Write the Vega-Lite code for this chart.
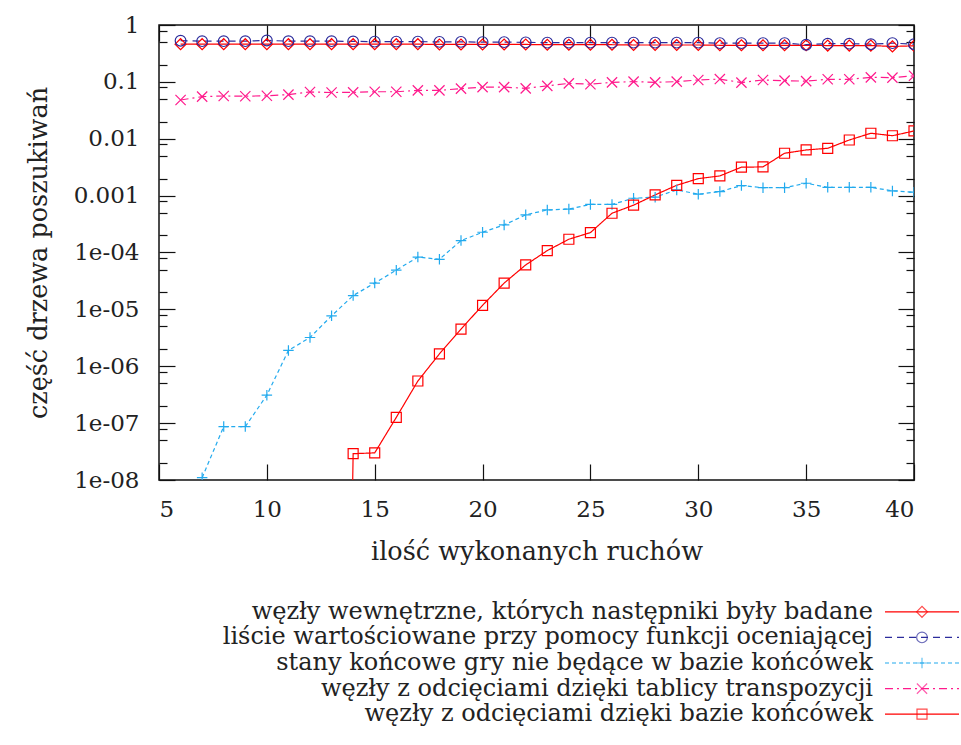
{
  "$schema": "https://vega.github.io/schema/vega-lite/v6.json",
  "padding": {"left": 25, "top": 13, "right": 0, "bottom": 0},
  "background": "white",
  "spacing": 33,
  "resolve": {"scale": {"x": "independent", "y": "independent"}},
  "config": {
    "view": {"stroke": "#111", "strokeWidth": 1.5},
    "font": "DejaVu Serif",
    "axis": {
      "labelFont": "DejaVu Serif", "labelFontSize": 23, "labelColor": "#222",
      "titleFont": "DejaVu Serif", "titleFontSize": 25.5, "titleFontWeight": "normal", "titleColor": "#222",
      "domain": false, "grid": false, "tickColor": "#111", "tickWidth": 1.2
    }
  },
  "datasets": {
    "series": [
      {"n": 6, "v": 0.46, "s": "węzły wewnętrzne, których następniki były badane"},
      {"n": 7, "v": 0.46, "s": "węzły wewnętrzne, których następniki były badane"},
      {"n": 8, "v": 0.46, "s": "węzły wewnętrzne, których następniki były badane"},
      {"n": 9, "v": 0.46, "s": "węzły wewnętrzne, których następniki były badane"},
      {"n": 10, "v": 0.46, "s": "węzły wewnętrzne, których następniki były badane"},
      {"n": 11, "v": 0.46, "s": "węzły wewnętrzne, których następniki były badane"},
      {"n": 12, "v": 0.46, "s": "węzły wewnętrzne, których następniki były badane"},
      {"n": 13, "v": 0.46, "s": "węzły wewnętrzne, których następniki były badane"},
      {"n": 14, "v": 0.46, "s": "węzły wewnętrzne, których następniki były badane"},
      {"n": 15, "v": 0.46, "s": "węzły wewnętrzne, których następniki były badane"},
      {"n": 16, "v": 0.46, "s": "węzły wewnętrzne, których następniki były badane"},
      {"n": 17, "v": 0.46, "s": "węzły wewnętrzne, których następniki były badane"},
      {"n": 18, "v": 0.455, "s": "węzły wewnętrzne, których następniki były badane"},
      {"n": 19, "v": 0.455, "s": "węzły wewnętrzne, których następniki były badane"},
      {"n": 20, "v": 0.455, "s": "węzły wewnętrzne, których następniki były badane"},
      {"n": 21, "v": 0.455, "s": "węzły wewnętrzne, których następniki były badane"},
      {"n": 22, "v": 0.455, "s": "węzły wewnętrzne, których następniki były badane"},
      {"n": 23, "v": 0.45, "s": "węzły wewnętrzne, których następniki były badane"},
      {"n": 24, "v": 0.45, "s": "węzły wewnętrzne, których następniki były badane"},
      {"n": 25, "v": 0.45, "s": "węzły wewnętrzne, których następniki były badane"},
      {"n": 26, "v": 0.45, "s": "węzły wewnętrzne, których następniki były badane"},
      {"n": 27, "v": 0.445, "s": "węzły wewnętrzne, których następniki były badane"},
      {"n": 28, "v": 0.445, "s": "węzły wewnętrzne, których następniki były badane"},
      {"n": 29, "v": 0.445, "s": "węzły wewnętrzne, których następniki były badane"},
      {"n": 30, "v": 0.445, "s": "węzły wewnętrzne, których następniki były badane"},
      {"n": 31, "v": 0.44, "s": "węzły wewnętrzne, których następniki były badane"},
      {"n": 32, "v": 0.44, "s": "węzły wewnętrzne, których następniki były badane"},
      {"n": 33, "v": 0.44, "s": "węzły wewnętrzne, których następniki były badane"},
      {"n": 34, "v": 0.44, "s": "węzły wewnętrzne, których następniki były badane"},
      {"n": 35, "v": 0.44, "s": "węzły wewnętrzne, których następniki były badane"},
      {"n": 36, "v": 0.435, "s": "węzły wewnętrzne, których następniki były badane"},
      {"n": 37, "v": 0.435, "s": "węzły wewnętrzne, których następniki były badane"},
      {"n": 38, "v": 0.435, "s": "węzły wewnętrzne, których następniki były badane"},
      {"n": 39, "v": 0.42, "s": "węzły wewnętrzne, których następniki były badane"},
      {"n": 40, "v": 0.43, "s": "węzły wewnętrzne, których następniki były badane"},

      {"n": 6, "v": 0.53, "s": "liście wartościowane przy pomocy funkcji oceniającej"},
      {"n": 7, "v": 0.52, "s": "liście wartościowane przy pomocy funkcji oceniającej"},
      {"n": 8, "v": 0.52, "s": "liście wartościowane przy pomocy funkcji oceniającej"},
      {"n": 9, "v": 0.52, "s": "liście wartościowane przy pomocy funkcji oceniającej"},
      {"n": 10, "v": 0.535, "s": "liście wartościowane przy pomocy funkcji oceniającej"},
      {"n": 11, "v": 0.52, "s": "liście wartościowane przy pomocy funkcji oceniającej"},
      {"n": 12, "v": 0.52, "s": "liście wartościowane przy pomocy funkcji oceniającej"},
      {"n": 13, "v": 0.52, "s": "liście wartościowane przy pomocy funkcji oceniającej"},
      {"n": 14, "v": 0.515, "s": "liście wartościowane przy pomocy funkcji oceniającej"},
      {"n": 15, "v": 0.51, "s": "liście wartościowane przy pomocy funkcji oceniającej"},
      {"n": 16, "v": 0.51, "s": "liście wartościowane przy pomocy funkcji oceniającej"},
      {"n": 17, "v": 0.51, "s": "liście wartościowane przy pomocy funkcji oceniającej"},
      {"n": 18, "v": 0.505, "s": "liście wartościowane przy pomocy funkcji oceniającej"},
      {"n": 19, "v": 0.505, "s": "liście wartościowane przy pomocy funkcji oceniającej"},
      {"n": 20, "v": 0.5, "s": "liście wartościowane przy pomocy funkcji oceniającej"},
      {"n": 21, "v": 0.5, "s": "liście wartościowane przy pomocy funkcji oceniającej"},
      {"n": 22, "v": 0.495, "s": "liście wartościowane przy pomocy funkcji oceniającej"},
      {"n": 23, "v": 0.49, "s": "liście wartościowane przy pomocy funkcji oceniającej"},
      {"n": 24, "v": 0.49, "s": "liście wartościowane przy pomocy funkcji oceniającej"},
      {"n": 25, "v": 0.49, "s": "liście wartościowane przy pomocy funkcji oceniającej"},
      {"n": 26, "v": 0.49, "s": "liście wartościowane przy pomocy funkcji oceniającej"},
      {"n": 27, "v": 0.49, "s": "liście wartościowane przy pomocy funkcji oceniającej"},
      {"n": 28, "v": 0.49, "s": "liście wartościowane przy pomocy funkcji oceniającej"},
      {"n": 29, "v": 0.49, "s": "liście wartościowane przy pomocy funkcji oceniającej"},
      {"n": 30, "v": 0.49, "s": "liście wartościowane przy pomocy funkcji oceniającej"},
      {"n": 31, "v": 0.48, "s": "liście wartościowane przy pomocy funkcji oceniającej"},
      {"n": 32, "v": 0.48, "s": "liście wartościowane przy pomocy funkcji oceniającej"},
      {"n": 33, "v": 0.48, "s": "liście wartościowane przy pomocy funkcji oceniającej"},
      {"n": 34, "v": 0.48, "s": "liście wartościowane przy pomocy funkcji oceniającej"},
      {"n": 35, "v": 0.45, "s": "liście wartościowane przy pomocy funkcji oceniającej"},
      {"n": 36, "v": 0.47, "s": "liście wartościowane przy pomocy funkcji oceniającej"},
      {"n": 37, "v": 0.47, "s": "liście wartościowane przy pomocy funkcji oceniającej"},
      {"n": 38, "v": 0.46, "s": "liście wartościowane przy pomocy funkcji oceniającej"},
      {"n": 39, "v": 0.48, "s": "liście wartościowane przy pomocy funkcji oceniającej"},
      {"n": 40, "v": 0.46, "s": "liście wartościowane przy pomocy funkcji oceniającej"},

      {"n": 7, "v": 1.1e-8, "s": "stany końcowe gry nie będące w bazie końcówek"},
      {"n": 8, "v": 8.7e-8, "s": "stany końcowe gry nie będące w bazie końcówek"},
      {"n": 9, "v": 8.7e-8, "s": "stany końcowe gry nie będące w bazie końcówek"},
      {"n": 10, "v": 3.1e-7, "s": "stany końcowe gry nie będące w bazie końcówek"},
      {"n": 11, "v": 1.9e-6, "s": "stany końcowe gry nie będące w bazie końcówek"},
      {"n": 12, "v": 3.2e-6, "s": "stany końcowe gry nie będące w bazie końcówek"},
      {"n": 13, "v": 7.7e-6, "s": "stany końcowe gry nie będące w bazie końcówek"},
      {"n": 14, "v": 1.75e-5, "s": "stany końcowe gry nie będące w bazie końcówek"},
      {"n": 15, "v": 2.9e-5, "s": "stany końcowe gry nie będące w bazie końcówek"},
      {"n": 16, "v": 4.9e-5, "s": "stany końcowe gry nie będące w bazie końcówek"},
      {"n": 17, "v": 8.3e-5, "s": "stany końcowe gry nie będące w bazie końcówek"},
      {"n": 18, "v": 7.6e-5, "s": "stany końcowe gry nie będące w bazie końcówek"},
      {"n": 19, "v": 1.62e-4, "s": "stany końcowe gry nie będące w bazie końcówek"},
      {"n": 20, "v": 2.27e-4, "s": "stany końcowe gry nie będące w bazie końcówek"},
      {"n": 21, "v": 3.05e-4, "s": "stany końcowe gry nie będące w bazie końcówek"},
      {"n": 22, "v": 4.6e-4, "s": "stany końcowe gry nie będące w bazie końcówek"},
      {"n": 23, "v": 5.6e-4, "s": "stany końcowe gry nie będące w bazie końcówek"},
      {"n": 24, "v": 5.8e-4, "s": "stany końcowe gry nie będące w bazie końcówek"},
      {"n": 25, "v": 7.0e-4, "s": "stany końcowe gry nie będące w bazie końcówek"},
      {"n": 26, "v": 7.0e-4, "s": "stany końcowe gry nie będące w bazie końcówek"},
      {"n": 27, "v": 9.0e-4, "s": "stany końcowe gry nie będące w bazie końcówek"},
      {"n": 28, "v": 9.4e-4, "s": "stany końcowe gry nie będące w bazie końcówek"},
      {"n": 29, "v": 1.26e-3, "s": "stany końcowe gry nie będące w bazie końcówek"},
      {"n": 30, "v": 1.06e-3, "s": "stany końcowe gry nie będące w bazie końcówek"},
      {"n": 31, "v": 1.18e-3, "s": "stany końcowe gry nie będące w bazie końcówek"},
      {"n": 32, "v": 1.5e-3, "s": "stany końcowe gry nie będące w bazie końcówek"},
      {"n": 33, "v": 1.38e-3, "s": "stany końcowe gry nie będące w bazie końcówek"},
      {"n": 34, "v": 1.38e-3, "s": "stany końcowe gry nie będące w bazie końcówek"},
      {"n": 35, "v": 1.65e-3, "s": "stany końcowe gry nie będące w bazie końcówek"},
      {"n": 36, "v": 1.4e-3, "s": "stany końcowe gry nie będące w bazie końcówek"},
      {"n": 37, "v": 1.4e-3, "s": "stany końcowe gry nie będące w bazie końcówek"},
      {"n": 38, "v": 1.4e-3, "s": "stany końcowe gry nie będące w bazie końcówek"},
      {"n": 39, "v": 1.21e-3, "s": "stany końcowe gry nie będące w bazie końcówek"},
      {"n": 40, "v": 1.15e-3, "s": "stany końcowe gry nie będące w bazie końcówek"},

      {"n": 6, "v": 0.048, "s": "węzły z odcięciami dzięki tablicy transpozycji"},
      {"n": 7, "v": 0.055, "s": "węzły z odcięciami dzięki tablicy transpozycji"},
      {"n": 8, "v": 0.0565, "s": "węzły z odcięciami dzięki tablicy transpozycji"},
      {"n": 9, "v": 0.056, "s": "węzły z odcięciami dzięki tablicy transpozycji"},
      {"n": 10, "v": 0.057, "s": "węzły z odcięciami dzięki tablicy transpozycji"},
      {"n": 11, "v": 0.0596, "s": "węzły z odcięciami dzięki tablicy transpozycji"},
      {"n": 12, "v": 0.0665, "s": "węzły z odcięciami dzięki tablicy transpozycji"},
      {"n": 13, "v": 0.065, "s": "węzły z odcięciami dzięki tablicy transpozycji"},
      {"n": 14, "v": 0.0655, "s": "węzły z odcięciami dzięki tablicy transpozycji"},
      {"n": 15, "v": 0.067, "s": "węzły z odcięciami dzięki tablicy transpozycji"},
      {"n": 16, "v": 0.067, "s": "węzły z odcięciami dzięki tablicy transpozycji"},
      {"n": 17, "v": 0.071, "s": "węzły z odcięciami dzięki tablicy transpozycji"},
      {"n": 18, "v": 0.071, "s": "węzły z odcięciami dzięki tablicy transpozycji"},
      {"n": 19, "v": 0.076, "s": "węzły z odcięciami dzięki tablicy transpozycji"},
      {"n": 20, "v": 0.081, "s": "węzły z odcięciami dzięki tablicy transpozycji"},
      {"n": 21, "v": 0.081, "s": "węzły z odcięciami dzięki tablicy transpozycji"},
      {"n": 22, "v": 0.077, "s": "węzły z odcięciami dzięki tablicy transpozycji"},
      {"n": 23, "v": 0.085, "s": "węzły z odcięciami dzięki tablicy transpozycji"},
      {"n": 24, "v": 0.094, "s": "węzły z odcięciami dzięki tablicy transpozycji"},
      {"n": 25, "v": 0.091, "s": "węzły z odcięciami dzięki tablicy transpozycji"},
      {"n": 26, "v": 0.098, "s": "węzły z odcięciami dzięki tablicy transpozycji"},
      {"n": 27, "v": 0.101, "s": "węzły z odcięciami dzięki tablicy transpozycji"},
      {"n": 28, "v": 0.098, "s": "węzły z odcięciami dzięki tablicy transpozycji"},
      {"n": 29, "v": 0.101, "s": "węzły z odcięciami dzięki tablicy transpozycji"},
      {"n": 30, "v": 0.108, "s": "węzły z odcięciami dzięki tablicy transpozycji"},
      {"n": 31, "v": 0.112, "s": "węzły z odcięciami dzięki tablicy transpozycji"},
      {"n": 32, "v": 0.097, "s": "węzły z odcięciami dzięki tablicy transpozycji"},
      {"n": 33, "v": 0.108, "s": "węzły z odcięciami dzięki tablicy transpozycji"},
      {"n": 34, "v": 0.105, "s": "węzły z odcięciami dzięki tablicy transpozycji"},
      {"n": 35, "v": 0.103, "s": "węzły z odcięciami dzięki tablicy transpozycji"},
      {"n": 36, "v": 0.111, "s": "węzły z odcięciami dzięki tablicy transpozycji"},
      {"n": 37, "v": 0.111, "s": "węzły z odcięciami dzięki tablicy transpozycji"},
      {"n": 38, "v": 0.12, "s": "węzły z odcięciami dzięki tablicy transpozycji"},
      {"n": 39, "v": 0.119, "s": "węzły z odcięciami dzięki tablicy transpozycji"},
      {"n": 40, "v": 0.128, "s": "węzły z odcięciami dzięki tablicy transpozycji"},

      {"n": 13, "v": 1e-30, "s": "węzły z odcięciami dzięki bazie końcówek"},
      {"n": 14, "v": 2.9e-8, "s": "węzły z odcięciami dzięki bazie końcówek"},
      {"n": 15, "v": 3.0e-8, "s": "węzły z odcięciami dzięki bazie końcówek"},
      {"n": 16, "v": 1.26e-7, "s": "węzły z odcięciami dzięki bazie końcówek"},
      {"n": 17, "v": 5.5e-7, "s": "węzły z odcięciami dzięki bazie końcówek"},
      {"n": 18, "v": 1.65e-6, "s": "węzły z odcięciami dzięki bazie końcówek"},
      {"n": 19, "v": 4.5e-6, "s": "węzły z odcięciami dzięki bazie końcówek"},
      {"n": 20, "v": 1.18e-5, "s": "węzły z odcięciami dzięki bazie końcówek"},
      {"n": 21, "v": 2.9e-5, "s": "węzły z odcięciami dzięki bazie końcówek"},
      {"n": 22, "v": 6.05e-5, "s": "węzły z odcięciami dzięki bazie końcówek"},
      {"n": 23, "v": 1.08e-4, "s": "węzły z odcięciami dzięki bazie końcówek"},
      {"n": 24, "v": 1.71e-4, "s": "węzły z odcięciami dzięki bazie końcówek"},
      {"n": 25, "v": 2.24e-4, "s": "węzły z odcięciami dzięki bazie końcówek"},
      {"n": 26, "v": 4.9e-4, "s": "węzły z odcięciami dzięki bazie końcówek"},
      {"n": 27, "v": 6.8e-4, "s": "węzły z odcięciami dzięki bazie końcówek"},
      {"n": 28, "v": 1.03e-3, "s": "węzły z odcięciami dzięki bazie końcówek"},
      {"n": 29, "v": 1.52e-3, "s": "węzły z odcięciami dzięki bazie końcówek"},
      {"n": 30, "v": 1.99e-3, "s": "węzły z odcięciami dzięki bazie końcówek"},
      {"n": 31, "v": 2.22e-3, "s": "węzły z odcięciami dzięki bazie końcówek"},
      {"n": 32, "v": 3.16e-3, "s": "węzły z odcięciami dzięki bazie końcówek"},
      {"n": 33, "v": 3.2e-3, "s": "węzły z odcięciami dzięki bazie końcówek"},
      {"n": 34, "v": 5.56e-3, "s": "węzły z odcięciami dzięki bazie końcówek"},
      {"n": 35, "v": 6.35e-3, "s": "węzły z odcięciami dzięki bazie końcówek"},
      {"n": 36, "v": 6.8e-3, "s": "węzły z odcięciami dzięki bazie końcówek"},
      {"n": 37, "v": 9.5e-3, "s": "węzły z odcięciami dzięki bazie końcówek"},
      {"n": 38, "v": 0.0125, "s": "węzły z odcięciami dzięki bazie końcówek"},
      {"n": 39, "v": 0.0113, "s": "węzły z odcięciami dzięki bazie końcówek"},
      {"n": 40, "v": 0.0137, "s": "węzły z odcięciami dzięki bazie końcówek"}
    ],
    "legend": [
      {"s": "węzły wewnętrzne, których następniki były badane"},
      {"s": "liście wartościowane przy pomocy funkcji oceniającej"},
      {"s": "stany końcowe gry nie będące w bazie końcówek"},
      {"s": "węzły z odcięciami dzięki tablicy transpozycji"},
      {"s": "węzły z odcięciami dzięki bazie końcówek"}
    ]
  },
  "vconcat": [
    {
      "width": 755,
      "height": 455,
      "data": {"name": "series"},
      "resolve": {"axis": {"x": "independent", "y": "independent"}},
      "encoding": {
        "x": {"field": "n", "type": "quantitative", "scale": {"domain": [5, 40], "nice": false, "zero": false}},
        "y": {"field": "v", "type": "quantitative", "scale": {"type": "log", "domain": [1e-8, 1], "nice": false}},
        "color": {"field": "s", "type": "nominal", "legend": null,
          "scale": {"domain": ["węzły wewnętrzne, których następniki były badane", "liście wartościowane przy pomocy funkcji oceniającej", "stany końcowe gry nie będące w bazie końcówek", "węzły z odcięciami dzięki tablicy transpozycji", "węzły z odcięciami dzięki bazie końcówek"],
            "range": ["#ff0000", "#2c2c9c", "#22aaee", "#ff1a8c", "#ff0000"]}}
      },
      "layer": [
        {
          "mark": {"type": "line", "clip": true, "strokeWidth": 1.2},
          "encoding": {
            "x": {"field": "n", "type": "quantitative", "title": "ilość wykonanych ruchów",
              "axis": {"orient": "bottom", "values": [5, 10, 15, 20, 25, 30, 35, 40], "tickSize": -16, "labelPadding": 34, "titlePadding": 18}},
            "y": {"field": "v", "type": "quantitative", "title": "część drzewa poszukiwań",
              "axis": {"orient": "left",
                "values": [1e-8, 2e-8, 5e-8, 8e-8, 1e-7, 2e-7, 5e-7, 8e-7, 1e-6, 2e-6, 5e-6, 8e-6, 1e-5, 2e-5, 5e-5, 8e-5, 1e-4, 2e-4, 5e-4, 8e-4, 0.001, 0.002, 0.005, 0.008, 0.01, 0.02, 0.05, 0.08, 0.1, 0.2, 0.5, 0.8, 1],
                "labelExpr": "abs(log(datum.value)/LN10 - round(log(datum.value)/LN10)) < 1e-6 ? (datum.value >= 0.001 ? format(datum.value, '~g') : '1e-0' + (-round(log(datum.value)/LN10))) : ''",
                "tickSize": {"condition": {"test": "abs(log(datum.value)/LN10 - round(log(datum.value)/LN10)) < 1e-6", "value": -16}, "value": -8},
                "labelPadding": 36, "titlePadding": 22}},
            "strokeDash": {"field": "s", "type": "nominal", "legend": null,
              "scale": {"domain": ["węzły wewnętrzne, których następniki były badane", "liście wartościowane przy pomocy funkcji oceniającej", "stany końcowe gry nie będące w bazie końcówek", "węzły z odcięciami dzięki tablicy transpozycji", "węzły z odcięciami dzięki bazie końcówek"],
                "range": [[1, 0], [7, 5], [4, 3], [8, 4, 2, 4], [1, 0]]}}
          }
        },
        {
          "mark": {"type": "point", "clip": true, "filled": false, "strokeWidth": 1.2, "opacity": 1},
          "encoding": {
            "x": {"field": "n", "type": "quantitative", "axis": null},
            "y": {"field": "v", "type": "quantitative", "axis": null},
            "shape": {"field": "s", "type": "nominal", "legend": null,
              "scale": {"domain": ["węzły wewnętrzne, których następniki były badane", "liście wartościowane przy pomocy funkcji oceniającej", "stany końcowe gry nie będące w bazie końcówek", "węzły z odcięciami dzięki tablicy transpozycji", "węzły z odcięciami dzięki bazie końcówek"],
                "range": ["diamond", "circle", "M-1,0L1,0M0,-1L0,1", "M-1,-1L1,1M-1,1L1,-1", "square"]}},
            "size": {"field": "s", "type": "nominal", "legend": null,
              "scale": {"domain": ["węzły wewnętrzne, których następniki były badane", "liście wartościowane przy pomocy funkcji oceniającej", "stany końcowe gry nie będące w bazie końcówek", "węzły z odcięciami dzięki tablicy transpozycji", "węzły z odcięciami dzięki bazie końcówek"],
                "range": [120, 100, 150, 80, 80]}}
          }
        },
        {
          "mark": {"type": "point", "opacity": 0, "clip": true},
          "encoding": {
            "x": {"field": "n", "type": "quantitative",
              "axis": {"orient": "top", "values": [5, 10, 15, 20, 25, 30, 35, 40], "tickSize": -16, "labels": false, "title": null}},
            "y": {"field": "v", "type": "quantitative",
              "axis": {"orient": "right", "labels": false, "title": null,
                "values": [1e-8, 2e-8, 5e-8, 8e-8, 1e-7, 2e-7, 5e-7, 8e-7, 1e-6, 2e-6, 5e-6, 8e-6, 1e-5, 2e-5, 5e-5, 8e-5, 1e-4, 2e-4, 5e-4, 8e-4, 0.001, 0.002, 0.005, 0.008, 0.01, 0.02, 0.05, 0.08, 0.1, 0.2, 0.5, 0.8, 1],
                "tickSize": {"condition": {"test": "abs(log(datum.value)/LN10 - round(log(datum.value)/LN10)) < 1e-6", "value": -16}, "value": -8}}}
          }
        }
      ]
    },
    {
      "width": 800,
      "height": 128,
      "view": {"stroke": null},
      "data": {"name": "legend"},
      "encoding": {
        "y": {"field": "s", "type": "nominal", "axis": null, "sort": null,
          "scale": {"type": "point", "padding": 0.5}},
        "color": {"field": "s", "type": "nominal", "legend": null,
          "scale": {"domain": ["węzły wewnętrzne, których następniki były badane", "liście wartościowane przy pomocy funkcji oceniającej", "stany końcowe gry nie będące w bazie końcówek", "węzły z odcięciami dzięki tablicy transpozycji", "węzły z odcięciami dzięki bazie końcówek"],
            "range": ["#ff0000", "#2c2c9c", "#22aaee", "#ff1a8c", "#ff0000"]}}
      },
      "layer": [
        {
          "mark": {"type": "text", "align": "right", "baseline": "middle", "font": "DejaVu Serif", "fontSize": 24},
          "encoding": {
            "x": {"datum": 714, "type": "quantitative", "scale": {"domain": [0, 800], "nice": false}, "axis": null},
            "text": {"field": "s"},
            "color": {"value": "#222"}
          }
        },
        {
          "mark": {"type": "rule", "strokeWidth": 1.2},
          "encoding": {
            "x": {"datum": 726, "type": "quantitative", "scale": {"domain": [0, 800], "nice": false}, "axis": null},
            "x2": {"datum": 800},
            "strokeDash": {"field": "s", "type": "nominal", "legend": null,
              "scale": {"domain": ["węzły wewnętrzne, których następniki były badane", "liście wartościowane przy pomocy funkcji oceniającej", "stany końcowe gry nie będące w bazie końcówek", "węzły z odcięciami dzięki tablicy transpozycji", "węzły z odcięciami dzięki bazie końcówek"],
                "range": [[1, 0], [7, 5], [4, 3], [8, 4, 2, 4], [1, 0]]}}
          }
        },
        {
          "mark": {"type": "point", "filled": false, "strokeWidth": 1.2},
          "encoding": {
            "x": {"datum": 763, "type": "quantitative", "scale": {"domain": [0, 800], "nice": false}, "axis": null},
            "shape": {"field": "s", "type": "nominal", "legend": null,
              "scale": {"domain": ["węzły wewnętrzne, których następniki były badane", "liście wartościowane przy pomocy funkcji oceniającej", "stany końcowe gry nie będące w bazie końcówek", "węzły z odcięciami dzięki tablicy transpozycji", "węzły z odcięciami dzięki bazie końcówek"],
                "range": ["diamond", "circle", "M-1,0L1,0M0,-1L0,1", "M-1,-1L1,1M-1,1L1,-1", "square"]}},
            "size": {"field": "s", "type": "nominal", "legend": null,
              "scale": {"domain": ["węzły wewnętrzne, których następniki były badane", "liście wartościowane przy pomocy funkcji oceniającej", "stany końcowe gry nie będące w bazie końcówek", "węzły z odcięciami dzięki tablicy transpozycji", "węzły z odcięciami dzięki bazie końcówek"],
                "range": [120, 100, 150, 80, 80]}}
          }
        }
      ]
    }
  ]
}
